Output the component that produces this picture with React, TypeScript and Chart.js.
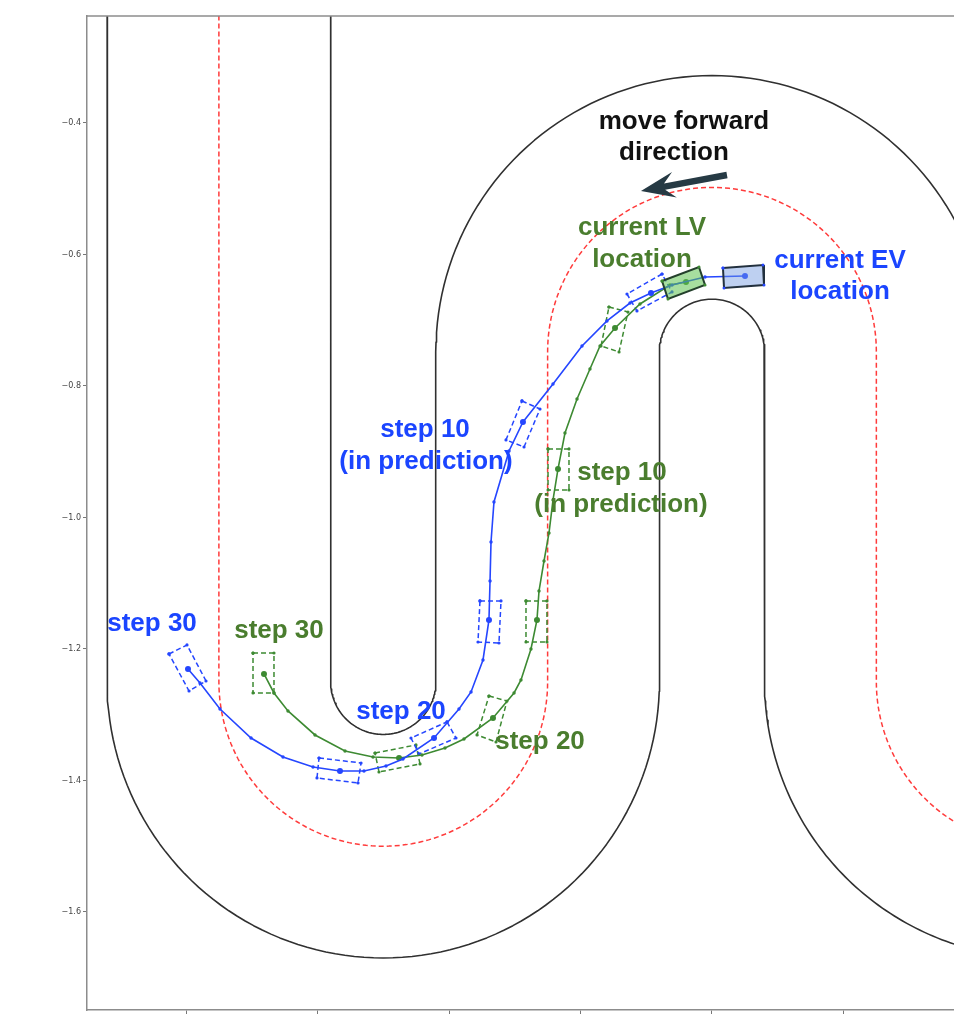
import React, { useEffect, useRef } from 'react';
import { Chart, registerables } from 'chart.js';

Chart.register(...registerables);

// ---- axes ----
const X_MIN = -0.9506;
const X_MAX = 0.3681;
const Y_MIN = -1.7491;
const Y_MAX = -0.2373;
const X_TICKS = [-0.8, -0.6, -0.4, -0.2, 0.0, 0.2];
const Y_TICKS = [-1.6, -1.4, -1.2, -1.0, -0.8, -0.6, -0.4];

// ---- track geometry (M/L points, A = arc: cx, cy, r, startDeg, endDeg) ----
const TRACK_EDGE_A: (string | number)[][] = [
  ['M', -0.92, -0.2], ['L', -0.92, -1.25], ['A', -0.5, -1.25, 0.42, 180, 360],
  ['L', -0.08, -0.748], ['A', 0, -0.748, 0.08, 180, 0], ['L', 0.08, -1.25],
  ['A', 0.5, -1.25, 0.42, 180, 270],
];
const TRACK_EDGE_B: (string | number)[][] = [
  ['M', -0.58, -0.2], ['L', -0.58, -1.25], ['A', -0.5, -1.25, 0.08, 180, 360],
  ['L', -0.42, -0.748], ['A', 0, -0.748, 0.42, 180, 0], ['L', 0.42, -1.4],
];
const TRACK_CENTER: (string | number)[][] = [
  ['M', -0.75, -0.2], ['L', -0.75, -1.25], ['A', -0.5, -1.25, 0.25, 180, 360],
  ['L', -0.25, -0.748], ['A', 0, -0.748, 0.25, 180, 0], ['L', 0.25, -1.25],
  ['A', 0.5, -1.25, 0.25, 180, 270],
];

// ---- EV predicted trajectory (blue) ----
const EV_PATH_X = [0.0502, -0.0106, -0.0608, -0.0928, -0.1247, -0.1597, -0.1977, -0.2418, -0.2875, -0.3087,
  -0.3316, -0.3361, -0.3376, -0.3392, -0.3483, -0.3665, -0.3848, -0.4228, -0.4700, -0.4958,
  -0.5293, -0.5658, -0.6068, -0.6525, -0.7011, -0.7483, -0.7787, -0.7970];
const EV_PATH_Y = [-0.6327, -0.6342, -0.6464, -0.6586, -0.6738, -0.7011, -0.7392, -0.7970, -0.8548, -0.8989,
  -0.9764, -1.0373, -1.0966, -1.1559, -1.2167, -1.2654, -1.2913, -1.3354, -1.3673, -1.3780,
  -1.3856, -1.3856, -1.3795, -1.3643, -1.3354, -1.2913, -1.2517, -1.2304];
const EV_MARK_IDX = [0, 3, 8, 13, 17, 21, 27];

// ---- LV predicted trajectory (green) ----
const LV_PATH_X = [-0.0395, -0.0639, -0.1095, -0.1475, -0.1703, -0.1856, -0.2053, -0.2236, -0.2342, -0.2418,
  -0.2479, -0.2555, -0.2631, -0.2662, -0.2753, -0.2905, -0.3011, -0.3331, -0.3772, -0.4061,
  -0.4411, -0.4760, -0.5156, -0.5582, -0.6038, -0.6449, -0.6662, -0.6814];
const LV_PATH_Y = [-0.6418, -0.6464, -0.6753, -0.7118, -0.7392, -0.7742, -0.8198, -0.8715, -0.9262, -0.9734,
  -1.0236, -1.0662, -1.1118, -1.1559, -1.2000, -1.2472, -1.2669, -1.3049, -1.3369, -1.3506,
  -1.3612, -1.3658, -1.3643, -1.3551, -1.3308, -1.2943, -1.2669, -1.2380];
const LV_MARK_IDX = [0, 3, 8, 13, 17, 21, 27];

// ---- predicted footprints (dashed) ----
const EV_BOX_X = [
  [-0.0760, -0.1293, -0.1141, -0.0608],
  [-0.2890, -0.2616, -0.2859, -0.3133],
  [-0.3529, -0.3209, -0.3240, -0.3559],
  [-0.4030, -0.3894, -0.4456, -0.4578],
  [-0.5977, -0.5338, -0.5384, -0.6008],
  [-0.8259, -0.7985, -0.7696, -0.7954],
];
const EV_BOX_Y = [
  [-0.6297, -0.6601, -0.6859, -0.6570],
  [-0.8228, -0.8350, -0.8928, -0.8821],
  [-1.1270, -1.1270, -1.1909, -1.1894],
  [-1.3110, -1.3354, -1.3597, -1.3354],
  [-1.3658, -1.3734, -1.4038, -1.3962],
  [-1.2076, -1.1939, -1.2487, -1.2639],
];
const LV_BOX_X = [
  [-0.1567, -0.1278, -0.1414, -0.1688],
  [-0.2494, -0.2175, -0.2175, -0.2494],
  [-0.2829, -0.2510, -0.2510, -0.2829],
  [-0.3392, -0.3118, -0.3285, -0.3574],
  [-0.5125, -0.4502, -0.4441, -0.5065],
  [-0.6981, -0.6662, -0.6662, -0.6981],
];
const LV_BOX_Y = [
  [-0.6799, -0.6875, -0.7483, -0.7392],
  [-0.8958, -0.8958, -0.9582, -0.9582],
  [-1.1270, -1.1270, -1.1894, -1.1894],
  [-1.2715, -1.2791, -1.3415, -1.3308],
  [-1.3582, -1.3460, -1.3749, -1.3871],
  [-1.2061, -1.2061, -1.2669, -1.2669],
];

// ---- current vehicles ----
const EV_NOW_X = [0.0167, 0.0776, 0.0791, 0.0183];
const EV_NOW_Y = [-0.6205, -0.6160, -0.6464, -0.6510];
const LV_NOW_X = [-0.0760, -0.0198, -0.0106, -0.0669];
const LV_NOW_Y = [-0.6403, -0.6190, -0.6464, -0.6677];

// ---- annotations ----
const NOTE_TEXT = ['move forward', 'direction', 'current LV', 'location', 'current EV', 'location',
  'step 10', '(in prediction)', 'step 10', '(in prediction)', 'step 30', 'step 30', 'step 20', 'step 20'];
const NOTE_X = [-0.0426, -0.0578, -0.1065, -0.1065, 0.1947, 0.1947, -0.4365, -0.4350, -0.1369, -0.1384,
  -0.8517, -0.6586, -0.4730, -0.2616];
const NOTE_Y = [-0.3985, -0.4456, -0.5597, -0.6084, -0.6099, -0.6570, -0.8669, -0.9156, -0.9323, -0.9810,
  -1.1620, -1.1726, -1.2958, -1.3415];
const NOTE_KIND = ['k', 'k', 'g', 'g', 'b', 'b', 'b', 'b', 'g', 'g', 'b', 'g', 'b', 'g'];
const ARROW_FROM = [0.0228, -0.4791];
const ARROW_TO = [-0.1080, -0.5034];

// ---- styles ----
const BLUE = '#2546ff';
const GREEN = '#3d8a32';
const TEXT_COLORS: Record<string, string> = { k: '#111111', g: '#4a7d2e', b: '#1b45ff' };

function trackPoints(segs: (string | number)[][]) {
  const out: { x: number; y: number }[] = [];
  const push = (x: number, y: number) => {
    const last = out[out.length - 1];
    if (last && Math.abs(last.x - x) < 1e-9 && Math.abs(last.y - y) < 1e-9) return;
    out.push({ x, y });
  };
  for (const s of segs) {
    if (s[0] === 'M' || s[0] === 'L') {
      push(s[1] as number, s[2] as number);
    } else {
      const [, cx, cy, r, a0, a1] = s as [string, number, number, number, number, number];
      const n = 90;
      for (let i = 0; i <= n; i++) {
        const a = ((a0 + ((a1 - a0) * i) / n) * Math.PI) / 180;
        push(cx + r * Math.cos(a), cy + r * Math.sin(a));
      }
    }
  }
  return out;
}

const pts = (xs: number[], ys: number[]) => xs.map((x, i) => ({ x, y: ys[i] }));
const closed = (xs: number[], ys: number[]) => [...pts(xs, ys), { x: xs[0], y: ys[0] }];

const overlay = {
  id: 'overlay',
  afterDatasetsDraw(chart: any) {
    const { ctx, chartArea, scales } = chart;
    const xs = scales.x;
    const ys = scales.y;
    ctx.save();
    // top spine
    ctx.strokeStyle = '#8c8c8c';
    ctx.lineWidth = 1.5;
    ctx.beginPath();
    ctx.moveTo(chartArea.left - 0.75, chartArea.top);
    ctx.lineTo(chartArea.right + 10, chartArea.top);
    ctx.stroke();

    // arrow
    const tx = xs.getPixelForValue(ARROW_FROM[0]);
    const ty = ys.getPixelForValue(ARROW_FROM[1]);
    const px = xs.getPixelForValue(ARROW_TO[0]);
    const py = ys.getPixelForValue(ARROW_TO[1]);
    const len = Math.hypot(tx - px, ty - py);
    const ux = (tx - px) / len;
    const uy = (ty - py) / len;
    const nx = -uy;
    const ny = ux;
    const L = 34, W = 13, N = 24, S = 3.2;
    ctx.fillStyle = '#263a44';
    ctx.beginPath();
    ctx.moveTo(px, py);
    ctx.lineTo(px + ux * L + nx * W, py + uy * L + ny * W);
    ctx.lineTo(px + ux * N + nx * S, py + uy * N + ny * S);
    ctx.lineTo(tx + nx * S, ty + ny * S);
    ctx.lineTo(tx - nx * S, ty - ny * S);
    ctx.lineTo(px + ux * N - nx * S, py + uy * N - ny * S);
    ctx.lineTo(px + ux * L - nx * W, py + uy * L - ny * W);
    ctx.closePath();
    ctx.fill();

    // texts
    ctx.font = 'bold 26px "Liberation Sans", Arial, sans-serif';
    ctx.textAlign = 'center';
    ctx.textBaseline = 'middle';
    NOTE_TEXT.forEach((t, i) => {
      ctx.fillStyle = TEXT_COLORS[NOTE_KIND[i]];
      ctx.fillText(t, xs.getPixelForValue(NOTE_X[i]), ys.getPixelForValue(NOTE_Y[i]));
    });
    ctx.restore();
  },
};

export default function App() {
  const ref = useRef<HTMLCanvasElement>(null);

  useEffect(() => {
    const canvas = ref.current;
    if (!canvas) return;

    const trackDs = (segs: (string | number)[][], color: string, dash: number[], width: number) => ({
      type: 'line' as const,
      data: trackPoints(segs),
      borderColor: color,
      borderWidth: width,
      borderDash: dash,
      borderJoinStyle: 'round',
      pointRadius: 0,
      tension: 0,
      fill: false,
      order: 100,
    });

    const boxDs = (xs: number[], ys: number[], color: string) => ({
      type: 'line' as const,
      data: closed(xs, ys),
      borderColor: color,
      borderWidth: 1.5,
      borderDash: [5, 3],
      pointRadius: 1.6,
      pointBackgroundColor: color,
      pointBorderWidth: 0,
      tension: 0,
      fill: false,
      order: 50,
    });

    const pathDs = (xs: number[], ys: number[], marks: number[], color: string) => ({
      type: 'line' as const,
      data: pts(xs, ys),
      borderColor: color,
      borderWidth: 1.6,
      pointRadius: (c: any) => (marks.includes(c.dataIndex) ? 3 : 1.7),
      pointBackgroundColor: color,
      pointBorderWidth: 0,
      tension: 0,
      fill: false,
      order: 40,
    });

    const nowDs = (xs: number[], ys: number[], fillColor: string, edge: string, dot: string) => ({
      type: 'line' as const,
      data: closed(xs, ys),
      borderColor: edge,
      borderWidth: 2,
      backgroundColor: fillColor,
      fill: 'shape',
      pointRadius: 1.5,
      pointBackgroundColor: dot,
      pointBorderWidth: 0,
      tension: 0,
      order: 20,
    });

    const datasets: any[] = [
      trackDs(TRACK_EDGE_A, '#303030', [], 1.6),
      trackDs(TRACK_EDGE_B, '#303030', [], 1.6),
      trackDs(TRACK_CENTER, '#ff3b3b', [5, 3], 1.5),
      ...EV_BOX_X.map((bx, i) => boxDs(bx, EV_BOX_Y[i], BLUE)),
      ...LV_BOX_X.map((bx, i) => boxDs(bx, LV_BOX_Y[i], GREEN)),
      pathDs(EV_PATH_X, EV_PATH_Y, EV_MARK_IDX, BLUE),
      pathDs(LV_PATH_X, LV_PATH_Y, LV_MARK_IDX, GREEN),
      nowDs(EV_NOW_X, EV_NOW_Y, 'rgba(110,150,225,0.45)', '#22303e', BLUE),
      nowDs(LV_NOW_X, LV_NOW_Y, 'rgba(95,195,80,0.55)', '#24402c', GREEN),
    ];

    const chart = new Chart(canvas, {
      type: 'line',
      data: { datasets },
      options: {
        animation: false,
        responsive: false,
        events: [],
        layout: { padding: { top: 16, left: 0, right: 0, bottom: 0 } },
        plugins: { legend: { display: false }, tooltip: { enabled: false } },
        scales: {
          x: {
            type: 'linear',
            min: X_MIN,
            max: X_MAX,
            afterBuildTicks: (s: any) => {
              s.ticks = X_TICKS.map((v) => ({ value: v }));
            },
            afterFit: (s: any) => {
              s.height = 8;
            },
            ticks: { display: false },
            grid: { display: true, drawOnChartArea: false, drawTicks: true, tickLength: 4, tickColor: '#777', tickWidth: 1 },
            border: { display: true, color: '#8c8c8c', width: 1.5 },
          },
          y: {
            type: 'linear',
            min: Y_MIN,
            max: Y_MAX,
            afterBuildTicks: (s: any) => {
              s.ticks = Y_TICKS.map((v) => ({ value: v }));
            },
            afterFit: (s: any) => {
              s.width = 87;
            },
            ticks: {
              padding: 2,
              color: '#444',
              font: { family: '"DejaVu Sans", sans-serif', size: 8 },
              callback: (v: any) => {
                const n = Number(v);
                return (n < 0 ? '\u2212' : '') + Math.abs(n).toFixed(1);
              },
            },
            grid: { display: true, drawOnChartArea: false, drawTicks: true, tickLength: 4, tickColor: '#777', tickWidth: 1 },
            border: { display: true, color: '#8c8c8c', width: 1.5 },
          },
        },
      },
      plugins: [overlay],
    } as any);

    return () => chart.destroy();
  }, []);

  return (
    <div style={{ position: 'fixed', left: 0, top: 0, width: 954, height: 1018, overflow: 'hidden', background: '#ffffff' }}>
      <canvas ref={ref} width={958} height={1018} style={{ display: 'block', width: 958, height: 1018 }} />
    </div>
  );
}
